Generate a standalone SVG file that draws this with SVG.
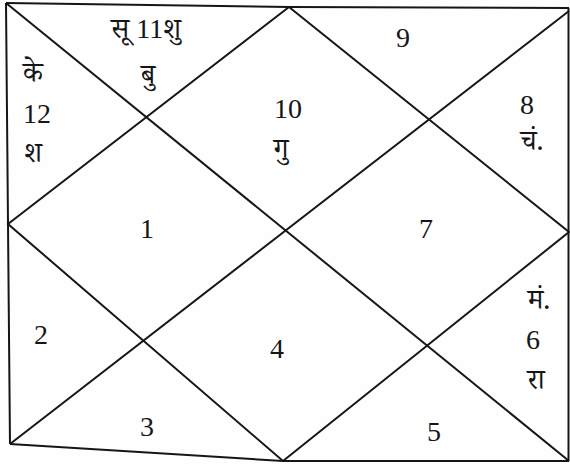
<svg xmlns="http://www.w3.org/2000/svg" width="570" height="466" viewBox="0 0 570 466">
<style>
.ln{fill:none;stroke:#161616;stroke-width:2;stroke-linejoin:miter}
text{fill:#161616;text-anchor:middle}
.n{font-family:"Liberation Serif","Times New Roman",serif;font-size:28px}
.d{font-family:"Noto Serif Devanagari","Noto Sans Devanagari","Lohit Devanagari",serif;font-size:28px}
</style>
<rect width="570" height="466" fill="#fefefe"/>
<g id="connectors">
<polyline class="ln" points="6,3 289,7 569,8"/>
<polyline class="ln" points="6,3 8,224 10,444"/>
<polyline class="ln" points="10,444 283,461 569,461"/>
<line class="ln" x1="568.5" y1="8" x2="568.5" y2="461"/>
<line class="ln" x1="6" y1="3" x2="569" y2="461"/>
<line class="ln" x1="569" y1="11" x2="10" y2="444"/>
<polygon class="ln" points="8,224 289,7 569,232 283,461"/>
</g>
<g id="house-11"><text x="146" y="38"><tspan class="d">सू </tspan><tspan class="n" font-size="24">11</tspan><tspan class="d">शु</tspan></text><text class="d" x="148" y="84">बु</text></g>
<g id="house-12"><text class="d" x="33" y="82">के</text><text class="n" x="37" y="123">12</text><text class="d" x="33" y="162">श</text></g>
<g id="house-10"><text class="n" x="288" y="118">10</text><text class="d" x="281" y="158">गु</text></g>
<g id="house-9"><text class="n" x="403" y="47">9</text></g>
<g id="house-8"><text class="n" x="527" y="114">8</text><text class="d" x="532" y="150">चं.</text></g>
<g id="house-1"><text class="n" x="147" y="238">1</text></g>
<g id="house-7"><text class="n" x="426" y="238">7</text></g>
<g id="house-2"><text class="n" x="41" y="344">2</text></g>
<g id="house-4"><text class="n" x="277" y="358">4</text></g>
<g id="house-6"><text class="d" x="539" y="309">मं.</text><text class="n" x="533" y="349">6</text><text class="d" x="536" y="389">रा</text></g>
<g id="house-3"><text class="n" x="147" y="436">3</text></g>
<g id="house-5"><text class="n" x="434" y="441">5</text></g>
</svg>
